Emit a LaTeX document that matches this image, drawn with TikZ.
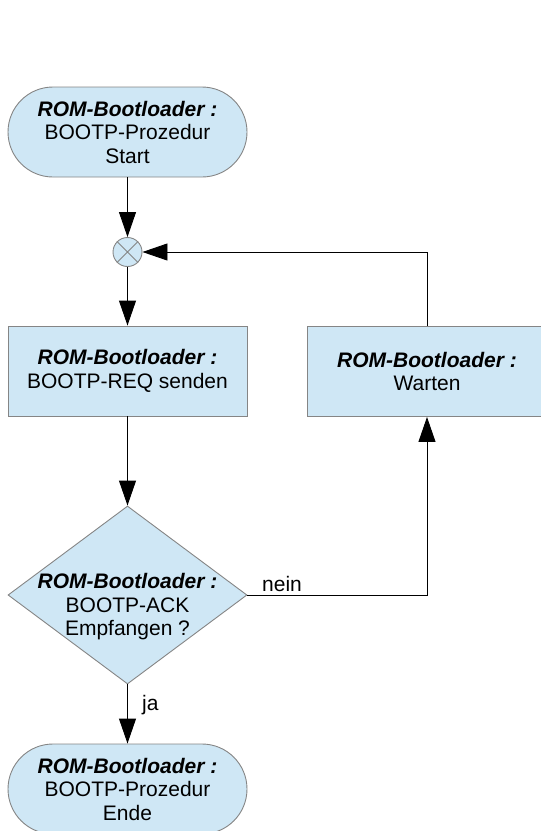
\documentclass[tikz,border=0pt]{standalone}
\usepackage{fontspec}
\setmainfont{Liberation Sans}
\usetikzlibrary{shapes.geometric,arrows.meta}
\definecolor{boxfill}{HTML}{CFE7F5}
\definecolor{boxline}{HTML}{858585}
\begin{document}
\begin{tikzpicture}[x=1pt,y=-1pt,
  every node/.style={font=\fontsize{21}{23.5}\selectfont},
  shapebox/.style={draw=boxline, fill=boxfill, line width=0.9pt},
  term/.style={shapebox, rectangle, rounded corners=45pt, minimum width=239pt, minimum height=90pt, inner sep=0pt, align=center},
  proc/.style={shapebox, rectangle, minimum width=239pt, minimum height=90pt, inner sep=0pt, align=center},
  dec/.style={shapebox, diamond, minimum width=239pt, minimum height=178pt, inner sep=0pt},
  lbl/.style={align=center, inner sep=0pt},
  conn/.style={draw=black, line width=0.9pt},
  arr/.style={conn, -{Triangle[length=25pt,width=17pt]}},
]
\useasboundingbox (0,0) rectangle (541,831);
\node[term] (start) at (127.5,132) {\textbf{\textit{ROM-Bootloader :}}\\BOOTP-Prozedur\\Start};
\node[shapebox, circle, minimum size=29pt, inner sep=0pt] (join) at (127.5,252) {};
\draw[boxline, line width=0.9pt] (join.north west) -- (join.south east) (join.north east) -- (join.south west);
\node[proc] (req) at (127.5,371) {\textbf{\textit{ROM-Bootloader :}}\\BOOTP-REQ senden};
\node[proc] (wait) at (427,371.5) {\textbf{\textit{ROM-Bootloader :}}\\Warten};
\node[dec] (ack) at (127.5,595) {};
\node[lbl] (acktext) at (127.5,607) {\textbf{\textit{ROM-Bootloader :}}\\BOOTP-ACK\\Empfangen ?};
\node[term] (end) at (127.5,789) {\textbf{\textit{ROM-Bootloader :}}\\BOOTP-Prozedur\\Ende};
\draw[arr] (start) -- (join);
\draw[arr] (join) -- (req);
\draw[arr] (req) -- (ack);
\draw[arr] (ack) -- (end);
\draw[arr] (ack.east) -| (wait.south);
\draw[arr] (wait.north) |- (join.east);
\node[anchor=base west, inner sep=0pt] (nein) at (262,591.5) {nein};
\node[anchor=base west, inner sep=0pt] (ja) at (142,710) {ja};
\end{tikzpicture}
\end{document}
